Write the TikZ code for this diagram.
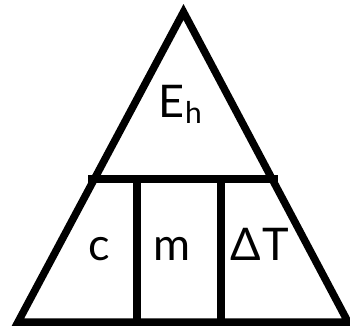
\documentclass[tikz,border=0pt]{standalone}
\usepackage{fontspec}
\setmainfont{Lato}
\begin{document}
\begin{tikzpicture}[x=1pt,y=-1pt,
  edge/.style={line width=7.5pt,line join=miter,miter limit=10},
  bar/.style={line width=7.5pt,line cap=butt},
  lbl/.style={anchor=base,inner sep=0pt,font=\fontsize{45}{45}\selectfont}]
\useasboundingbox (0,0) rectangle (350,329);
\coordinate (L) at (18,322);
\coordinate (A) at (183.5,12);
\coordinate (R) at (348,322);
\coordinate (hl) at (88,179);
\coordinate (hr) at (278,179);
\coordinate (v1t) at (137,179);
\coordinate (v1b) at (137,322);
\coordinate (v2t) at (221,179);
\coordinate (v2b) at (221,322);
\draw[edge] (L) -- (A) -- (R) -- cycle;
\draw[bar] (hl) -- (hr);
\draw[bar] (v1t) -- (v1b);
\draw[bar] (v2t) -- (v2b);
\node[lbl] (eh) at (180,117) {E\kern1pt\raisebox{-6pt}{\fontsize{30}{30}\selectfont h}};
\node[lbl] (c) at (99,260) {c};
\node[lbl] (m) at (172,260) {m};
\node[lbl] (dt) at (260,260) {Δ\kern1ptT};
\end{tikzpicture}
\end{document}
